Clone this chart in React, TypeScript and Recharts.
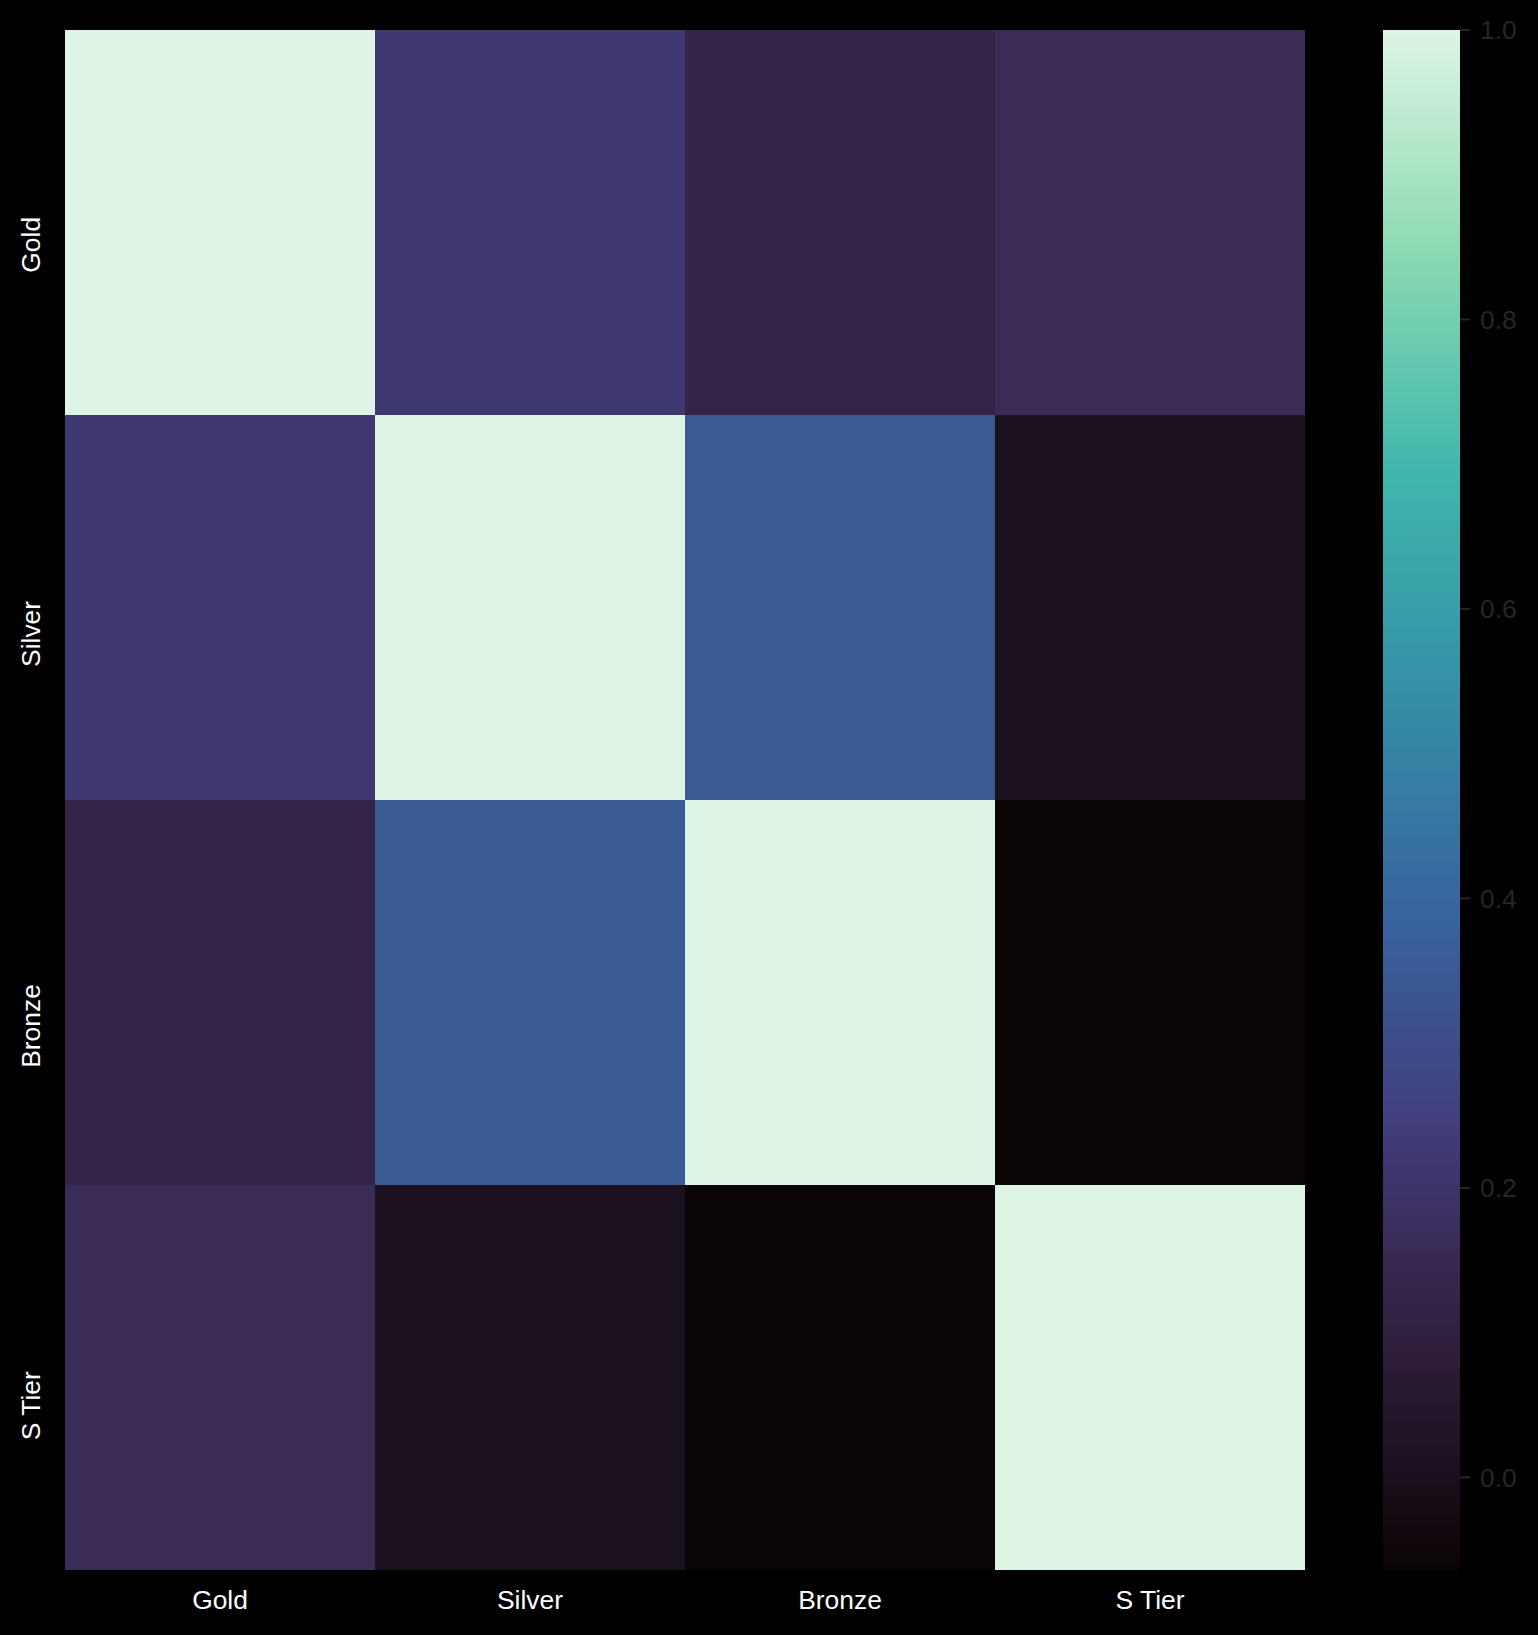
import React from 'react';
import { BarChart, Bar, XAxis, YAxis, Cell } from 'recharts';

const categories = ['Gold', 'Silver', 'Bronze', 'S Tier'];
const rowGold = [1.0, 0.22, 0.12, 0.16];
const rowSilver = [0.22, 1.0, 0.35, 0.01];
const rowBronze = [0.12, 0.35, 1.0, -0.064];
const rowSTier = [0.16, 0.01, -0.064, 1.0];
const matrix = [rowGold, rowSilver, rowBronze, rowSTier];
const colorbarTicks = [0.0, 0.2, 0.4, 0.6, 0.8, 1.0];
const vMin = -0.064;
const vMax = 1.0;

// mako colormap anchors
const makoStops: [number, string][] = [
  [0.0, '#0b0405'],
  [0.143, '#2e1e3b'],
  [0.21, '#3a2b57'],
  [0.286, '#413d7b'],
  [0.429, '#37659e'],
  [0.571, '#348fa7'],
  [0.714, '#40b7ad'],
  [0.857, '#8bdab2'],
  [1.0, '#def5e5'],
];

const hexToRgb = (h: string) => [
  parseInt(h.slice(1, 3), 16),
  parseInt(h.slice(3, 5), 16),
  parseInt(h.slice(5, 7), 16),
];

const mako = (t: number) => {
  const x = Math.max(0, Math.min(1, t));
  for (let i = 0; i < makoStops.length - 1; i++) {
    const [a, ca] = makoStops[i];
    const [b, cb] = makoStops[i + 1];
    if (x >= a && x <= b) {
      const f = (x - a) / (b - a);
      const ra = hexToRgb(ca);
      const rb = hexToRgb(cb);
      const c = ra.map((v, k) => Math.round(v + (rb[k] - v) * f));
      return `rgb(${c[0]},${c[1]},${c[2]})`;
    }
  }
  return makoStops[makoStops.length - 1][1];
};

const colorFor = (v: number) => mako((v - vMin) / (vMax - vMin));

// stacked rows: first Bar is bottom row (S Tier)
const data = categories.map((c) => ({
  name: c,
  r0: 1,
  r1: 1,
  r2: 1,
  r3: 1,
}));

const rowTickValues = [3.5, 2.5, 1.5, 0.5];

const FONT = 'Liberation Sans, Arial, sans-serif';
const FS = 26.4;

const charW: Record<string, number> = {
  G: 0.778, o: 0.556, l: 0.222, d: 0.556, S: 0.667, i: 0.222, v: 0.5, e: 0.556,
  r: 0.333, B: 0.667, n: 0.556, z: 0.5, ' ': 0.278, T: 0.611,
};
const textWidth = (s: string) =>
  s.split('').reduce((acc, ch) => acc + (charW[ch] ?? 0.556), 0) * FS;

const YTick = (props: any) => {
  const { y, payload } = props;
  const idx = rowTickValues.indexOf(payload.value);
  const label = idx >= 0 ? categories[idx] : '';
  const x = 40;
  const yy = y + 0.4 * textWidth(label);
  return (
    <text
      x={x}
      y={yy}
      transform={`rotate(-90, ${x}, ${yy})`}
      textAnchor="middle"
      fill="#ffffff"
      fontSize={FS}
      fontFamily={FONT}
    >
      {label}
    </text>
  );
};

const XTick = (props: any) => {
  const { x, payload } = props;
  return (
    <text x={x} y={1609} textAnchor="middle" fill="#ffffff" fontSize={FS} fontFamily={FONT}>
      {payload.value}
    </text>
  );
};

const cbData = [{ name: 'cb', range: [vMin, vMax] }];

export default function App() {
  const rowKeys = ['r0', 'r1', 'r2', 'r3'];
  return (
    <div
      style={{
        position: 'absolute',
        left: 0,
        top: 0,
        width: 1538,
        height: 1635,
        background: '#000000',
        overflow: 'hidden',
      }}
    >
      <div style={{ position: 'absolute', left: 0, top: 0 }}>
        <BarChart
          width={1538}
          height={1635}
          data={data}
          margin={{ top: 30, right: 233, bottom: 15, left: 15 }}
          barCategoryGap={0}
          barGap={0}
        >
          <XAxis
            dataKey="name"
            height={50}
            axisLine={false}
            tickLine={false}
            tick={<XTick />}
            interval={0}
          />
          <YAxis
            type="number"
            domain={[0, 4]}
            ticks={rowTickValues}
            width={50}
            axisLine={false}
            tickLine={false}
            tick={<YTick />}
            interval={0}
          />
          {rowKeys.map((k, ri) => {
            const rowIdx = 3 - ri;
            return (
              <Bar key={k} dataKey={k} stackId="a" isAnimationActive={false}>
                {data.map((d, ci) => (
                  <Cell key={ci} fill={colorFor(matrix[rowIdx][ci])} />
                ))}
              </Bar>
            );
          })}
        </BarChart>
      </div>
      <div style={{ position: 'absolute', left: 1383, top: 0 }}>
        <BarChart
          width={155}
          height={1635}
          data={cbData}
          margin={{ top: 30, right: 0, bottom: 65, left: 0 }}
          barCategoryGap={0}
          barGap={0}
        >
          <defs>
            <linearGradient id="makoGrad" x1="0" y1="1" x2="0" y2="0">
              {makoStops.map(([o, c]) => (
                <stop key={o} offset={`${o * 100}%`} stopColor={c} />
              ))}
            </linearGradient>
          </defs>
          <XAxis dataKey="name" hide />
          <YAxis
            type="number"
            orientation="right"
            domain={[vMin, vMax]}
            ticks={colorbarTicks}
            tickFormatter={(v: number) => v.toFixed(1)}
            width={78}
            axisLine={false}
            tickSize={10}
            tickMargin={10}
            tickLine={{ stroke: '#262626', strokeWidth: 2 }}
            tick={{ fill: '#262626', fontSize: FS, fontFamily: FONT }}
            interval={0}
            allowDataOverflow
          />
          <Bar dataKey="range" fill="url(#makoGrad)" isAnimationActive={false} />
        </BarChart>
      </div>
    </div>
  );
}
